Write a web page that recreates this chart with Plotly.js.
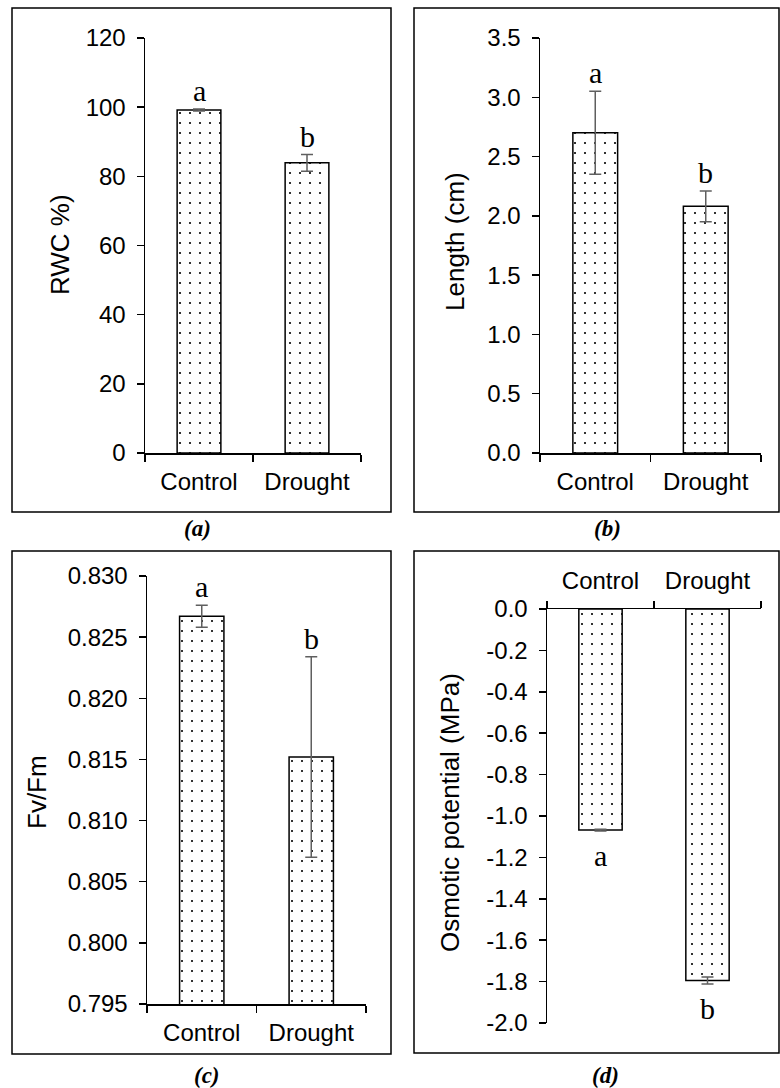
<!DOCTYPE html>
<html><head><meta charset="utf-8">
<script src="https://cdn.plot.ly/plotly-3.0.1.min.js"></script>
<style>body{margin:0;background:#fff}#chart{width:780px;height:1088px}</style>
</head><body><div id="chart"></div>
<script>
// ---- data ----
const categories = ['Control', 'Drought'];

const rwcMean = [99.2, 83.9];
const rwcErr = [0.3, 2.4];
const rwcLetters = ['a', 'b'];

const lengthMean = [2.70, 2.08];
const lengthErr = [0.35, 0.13];
const lengthLetters = ['a', 'b'];

const fvfmMean = [0.8267, 0.8152];
const fvfmErr = [0.0009, 0.0082];
const fvfmLetters = ['a', 'b'];

const osmoMean = [-1.068, -1.795];
const osmoErr = [0.004, 0.017];
const osmoLetters = ['a', 'b'];

const lengthTickVals = [0, 0.5, 1, 1.5, 2, 2.5, 3, 3.5];
const lengthTickText = ['0.0', '0.5', '1.0', '1.5', '2.0', '2.5', '3.0', '3.5'];
const fvfmTickVals = [0.795, 0.800, 0.805, 0.810, 0.815, 0.820, 0.825, 0.830];
const fvfmTickText = ['0.795', '0.800', '0.805', '0.810', '0.815', '0.820', '0.825', '0.830'];
const osmoTickVals = [0, -0.2, -0.4, -0.6, -0.8, -1.0, -1.2, -1.4, -1.6, -1.8, -2.0];
const osmoTickText = ['0.0', '-0.2', '-0.4', '-0.6', '-0.8', '-1.0', '-1.2', '-1.4', '-1.6', '-1.8', '-2.0'];

const yTitles = ['RWC %)', 'Length (cm)', 'Fv/Fm', 'Osmotic potential (MPa)'];
const panelLabels = ['(a)', '(b)', '(c)', '(d)'];

// ---- helpers ----
const W = 780, H = 1088;
const px = x => x / W;
const py = y => 1 - y / H;
const sans = 'Arial, "Liberation Sans", sans-serif';
const serif = '"Times New Roman", "Liberation Serif", serif';
const tickFont = {family: sans, size: 24, color: '#000'};
const letterFont = {family: serif, size: 30, color: '#000'};

function barTrace(mean, err, xa, ya) {
  return {
    type: 'bar', x: categories, y: mean, xaxis: xa, yaxis: ya,
    marker: {
      color: '#fff',
      line: {color: '#000', width: 1.5},
      pattern: {shape: '.', size: 10, solidity: 0.035, fgcolor: '#000', bgcolor: '#fff'}
    },
    error_y: {type: 'data', array: err, visible: true, color: '#5f5f5f', thickness: 1.5, width: 6},
    showlegend: false, hoverinfo: 'skip'
  };
}

function yax(domain, range, anchor, extra) {
  return Object.assign({
    domain: domain, range: range, anchor: anchor,
    showline: true, linecolor: '#000', linewidth: 1.5,
    ticks: 'outside', ticklen: 7, tickwidth: 1.5, tickcolor: '#000',
    ticklabelstandoff: 6,
    showgrid: false, zeroline: false, tickfont: tickFont, fixedrange: true
  }, extra || {});
}
function xax(domain, anchor, extra) {
  return Object.assign({
    domain: domain, anchor: anchor, type: 'category', range: [-0.5, 1.5],
    showline: true, linecolor: '#000', linewidth: 1.5,
    ticks: 'outside', tickson: 'boundaries', ticklen: 7, tickwidth: 1.5, tickcolor: '#000',
    ticklabelstandoff: 7,
    showgrid: false, zeroline: false, tickfont: tickFont, fixedrange: true
  }, extra || {});
}

const data = [
  barTrace(rwcMean, rwcErr, 'x', 'y'),
  barTrace(lengthMean, lengthErr, 'x2', 'y2'),
  barTrace(fvfmMean, fvfmErr, 'x3', 'y3'),
  barTrace(osmoMean, osmoErr, 'x4', 'y4')
];

const annotations = [];
function addLetters(mean, err, letters, xr, yr, below) {
  for (let i = 0; i < categories.length; i++) {
    annotations.push({
      xref: xr, yref: yr, x: categories[i],
      y: below ? mean[i] - err[i] : mean[i] + err[i],
      text: letters[i], showarrow: false,
      yanchor: below ? 'top' : 'bottom', yshift: below ? -6 : 0,
      font: letterFont
    });
  }
}
addLetters(rwcMean, rwcErr, rwcLetters, 'x', 'y', false);
addLetters(lengthMean, lengthErr, lengthLetters, 'x2', 'y2', false);
addLetters(fvfmMean, fvfmErr, fvfmLetters, 'x3', 'y3', false);
addLetters(osmoMean, osmoErr, osmoLetters, 'x4', 'y4', true);

// axis titles
const titlePos = [[60, 245], [455, 242], [37, 792], [450, 812]];
titlePos.forEach((p, i) => {
  annotations.push({
    xref: 'paper', yref: 'paper', x: px(p[0]), y: py(p[1]),
    xanchor: 'center', yanchor: 'middle', textangle: -90,
    text: yTitles[i], showarrow: false,
    font: {family: sans, size: 26, color: '#000'}
  });
});

// panel labels
const labelPos = [[197, 528], [607, 528], [207, 1075], [605, 1075]];
labelPos.forEach((p, i) => {
  annotations.push({
    xref: 'paper', yref: 'paper', x: px(p[0]), y: py(p[1]),
    xanchor: 'center', yanchor: 'middle',
    text: '<b><i>' + panelLabels[i] + '</i></b>', showarrow: false,
    font: {family: serif, size: 23, color: '#000'}
  });
});

const boxes = [[12, 8, 391, 512], [414, 8, 779, 512], [12, 551, 391, 1054], [414, 551, 779, 1053]];
const shapes = boxes.map(b => ({
  type: 'rect', xref: 'paper', yref: 'paper',
  x0: px(b[0]), x1: px(b[2]), y0: py(b[3]), y1: py(b[1]),
  line: {color: '#000', width: 1.5}, fillcolor: 'rgba(0,0,0,0)', layer: 'below'
}));

const layout = {
  width: W, height: H, margin: {l: 0, r: 0, t: 0, b: 0},
  paper_bgcolor: '#fff', plot_bgcolor: 'rgba(0,0,0,0)',
  bargap: 0.595, showlegend: false,
  xaxis: xax([px(145), px(361)], 'y'),
  yaxis: yax([py(453), py(38)], [0, 120], 'x', {dtick: 20}),
  xaxis2: xax([px(540), px(761)], 'y2'),
  yaxis2: yax([py(453), py(38)], [0, 3.5], 'x2', {tickmode: 'array', tickvals: lengthTickVals, ticktext: lengthTickText}),
  xaxis3: xax([px(147), px(366)], 'y3'),
  yaxis3: yax([py(1004), py(576)], [0.795, 0.830], 'x3', {tickmode: 'array', tickvals: fvfmTickVals, ticktext: fvfmTickText}),
  xaxis4: xax([px(547), px(761)], 'y4', {side: 'top', ticklabelstandoff: 9}),
  yaxis4: yax([py(1023), py(609)], [-2, 0], 'x4', {tickmode: 'array', tickvals: osmoTickVals, ticktext: osmoTickText}),
  annotations: annotations,
  shapes: shapes
};

Plotly.newPlot('chart', data, layout, {staticPlot: true, displayModeBar: false});
</script>
</body></html>
